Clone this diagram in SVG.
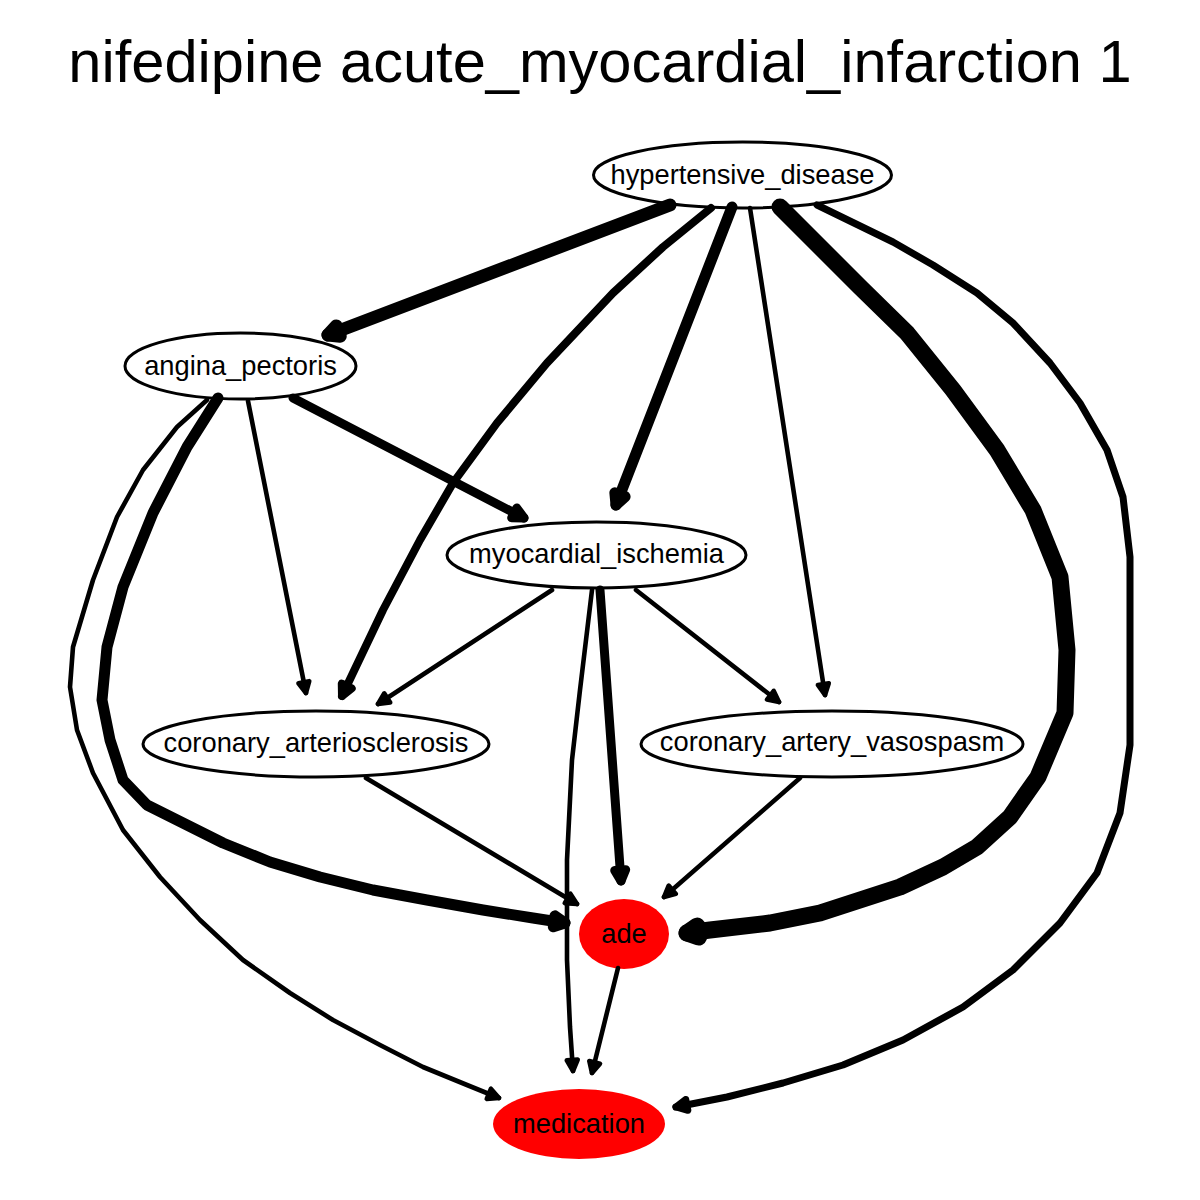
<svg xmlns="http://www.w3.org/2000/svg" width="1200" height="1200" viewBox="0 0 1200 1200">
<style>
.title{font-family:"Liberation Sans",Arial,sans-serif;font-size:59.6px;fill:#000;text-anchor:middle}
.lbl{font-family:"Liberation Sans",Arial,sans-serif;font-size:27.3px;fill:#000;text-anchor:middle}
.n{fill:#fff;stroke:#000;stroke-width:3}
.r{fill:#ff0000;stroke:none}
.e{fill:none;stroke:#000;stroke-linecap:round;stroke-linejoin:round}
.w4{stroke-width:4.6;marker-end:url(#a4)}
.w6{stroke-width:7;marker-end:url(#a6)}
.w7{stroke-width:8;marker-end:url(#a7)}
.w8{stroke-width:9;marker-end:url(#a8)}
.w10{stroke-width:11;marker-end:url(#a10)}
.w12{stroke-width:13;marker-end:url(#a12)}
.w15{stroke-width:17;marker-end:url(#a15)}
.ah{fill:#000;stroke:#000;stroke-linejoin:round}
</style>
<defs>
<marker id="a4" markerUnits="userSpaceOnUse" orient="auto" refX="0" refY="0" markerWidth="60" markerHeight="60" overflow="visible"><path class="ah" d="M0,0 L-11,-5.5 L-11,5.5 Z" stroke-width="4.6"/></marker>
<marker id="a6" markerUnits="userSpaceOnUse" orient="auto" refX="0" refY="0" markerWidth="60" markerHeight="60" overflow="visible"><path class="ah" d="M0,0 L-11,-5.5 L-11,5.5 Z" stroke-width="7"/></marker>
<marker id="a7" markerUnits="userSpaceOnUse" orient="auto" refX="0" refY="0" markerWidth="60" markerHeight="60" overflow="visible"><path class="ah" d="M0,0 L-11,-5.5 L-11,5.5 Z" stroke-width="8"/></marker>
<marker id="a8" markerUnits="userSpaceOnUse" orient="auto" refX="0" refY="0" markerWidth="60" markerHeight="60" overflow="visible"><path class="ah" d="M0,0 L-11,-5.5 L-11,5.5 Z" stroke-width="9"/></marker>
<marker id="a10" markerUnits="userSpaceOnUse" orient="auto" refX="0" refY="0" markerWidth="60" markerHeight="60" overflow="visible"><path class="ah" d="M0,0 L-11,-5.5 L-11,5.5 Z" stroke-width="11"/></marker>
<marker id="a12" markerUnits="userSpaceOnUse" orient="auto" refX="0" refY="0" markerWidth="60" markerHeight="60" overflow="visible"><path class="ah" d="M0,0 L-11,-5.5 L-11,5.5 Z" stroke-width="13"/></marker>
<marker id="a15" markerUnits="userSpaceOnUse" orient="auto" refX="0" refY="0" markerWidth="60" markerHeight="60" overflow="visible"><path class="ah" d="M0,0 L-11,-5.5 L-11,5.5 Z" stroke-width="17"/></marker>
</defs>
<rect width="1200" height="1200" fill="#fff"/>
<text class="title" x="600" y="82">nifedipine acute_myocardial_infarction 1</text>

<g id="hypertensive_disease"><ellipse class="n" cx="742.5" cy="175" rx="149" ry="33"/><text class="lbl" x="742.5" y="184">hypertensive_disease</text></g>
<g id="angina_pectoris"><ellipse class="n" cx="240.5" cy="366" rx="115.5" ry="33"/><text class="lbl" x="240.5" y="375">angina_pectoris</text></g>
<g id="myocardial_ischemia"><ellipse class="n" cx="596.5" cy="555" rx="149.5" ry="33"/><text class="lbl" x="596.5" y="563">myocardial_ischemia</text></g>
<g id="coronary_arteriosclerosis"><ellipse class="n" cx="316" cy="744" rx="173" ry="33"/><text class="lbl" x="316" y="752">coronary_arteriosclerosis</text></g>
<g id="coronary_artery_vasospasm"><ellipse class="n" cx="832" cy="744" rx="191" ry="33"/><text class="lbl" x="832" y="751">coronary_artery_vasospasm</text></g>
<g id="ade"><ellipse class="r" cx="624" cy="934" rx="45" ry="35"/><text class="lbl" x="624" y="943">ade</text></g>
<g id="medication"><ellipse class="r" cx="579" cy="1124" rx="86" ry="35"/><text class="lbl" x="579" y="1133">medication</text></g>

<g id="edges">
<path class="e w12" d="M670,205 L328,335"/>
<path class="e w7" d="M711,208 L663,247 L613,293 L547,363 L497,423 L453,483 L420,540 L383,610 L342,696"/>
<path class="e w10" d="M732,207 L616,505"/>
<path class="e w4" d="M750,208 L825,695"/>
<path class="e w15" d="M780,207 L810,237 L860,287 L907,333 L953,390 L997,450 L1033,510 L1060,577 L1067,650 L1065,713 L1038,777 L1010,817 L977,847 L943,867 L900,887 L860,900 L820,913 L770,923 L710,930 L687,933"/>
<path class="e w6" d="M817,205 L893,242 L933,265 L977,293 L1013,323 L1050,363 L1080,403 L1107,450 L1123,497 L1130,557 L1130,745 L1120,813 L1097,873 L1060,923 L1013,970 L963,1007 L903,1040 L843,1065 L783,1083 L727,1097 L676,1107"/>
<path class="e w8" d="M293,398 L524,518"/>
<path class="e w4" d="M248,401 L306,693"/>
<path class="e w10" d="M218,398 L187,447 L153,513 L123,587 L107,647 L102,700 L110,740 L123,780 L147,805 L183,823 L223,843 L270,862 L320,877 L373,890 L427,900 L483,910 L533,918 L565,923"/>
<path class="e w4" d="M207,400 L177,427 L143,470 L117,517 L93,580 L73,647 L70,687 L77,730 L93,773 L123,830 L160,877 L200,920 L243,960 L290,993 L333,1020 L380,1045 L423,1067 L467,1085 L499,1098"/>
<path class="e w4" d="M552,590 L378,704"/>
<path class="e w4" d="M636,590 L779,702"/>
<path class="e w8" d="M600,590 L621,881"/>
<path class="e w4" d="M592,590 L580,690 L572,760 L567,860 L567,960 L570,1027 L573,1071"/>
<path class="e w4" d="M366,778 L577,904"/>
<path class="e w4" d="M800,778 L664,897"/>
<path class="e w4" d="M618,968 L592,1073"/>
</g>
</svg>
